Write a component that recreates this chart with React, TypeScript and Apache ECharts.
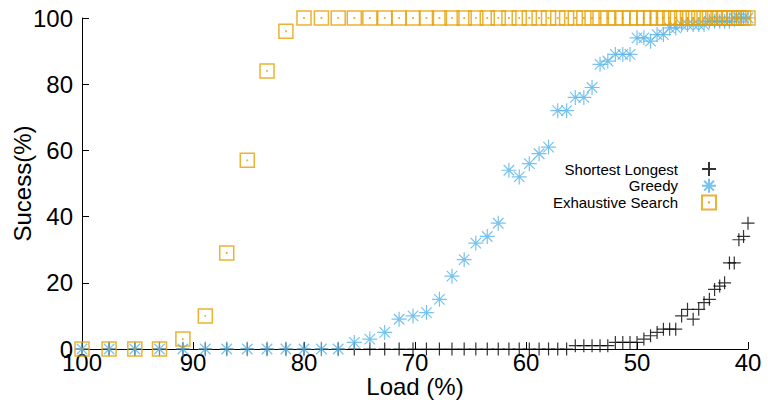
import React, { useEffect, useRef } from "react";
import * as echarts from "echarts";

const loads = [
  100, 97.56, 95.24, 93.02, 90.91, 88.89, 86.96, 85.11, 83.33, 81.63,
  80.0, 78.43, 76.92, 75.47, 74.07, 72.73, 71.43, 70.18, 68.97, 67.8,
  66.67, 65.57, 64.52, 63.49, 62.5, 61.54, 60.61, 59.7, 58.82, 57.97,
  57.14, 56.34, 55.56, 54.79, 54.05, 53.33, 52.63, 51.95, 51.28, 50.63,
  50.0, 49.38, 48.78, 48.19, 47.62, 47.06, 46.51, 45.98, 45.45, 44.94,
  44.44, 43.96, 43.48, 43.01, 42.55, 42.11, 41.67, 41.24, 40.82, 40.4,
  40.0,
];

const shortestLongest = [
  0, 0, 0, 0, 0, 0, 0, 0, 0, 0,
  0, 0, 0, 0, 0, 0, 0, 0, 0, 0,
  0, 0, 0, 0, 0, 0, 0, 0, 0, 0,
  0, 0, 1, 1, 1, 1, 1, 2, 2, 2,
  2, 3, 4, 5, 6, 6, 6, 10, 12, 9,
  12, 14, 15, 18, 19, 20, 26, 26, 33, 34,
  38,
];

const greedy = [
  0, 0, 0, 0, 0, 0, 0, 0, 0, 0,
  0, 0, 0, 2, 3, 5, 9, 10, 11, 15,
  22, 27, 32, 34, 38, 54, 52, 56, 59, 61,
  72, 72, 76, 76, 79, 86, 87, 89, 89, 89,
  94, 94, 93, 95, 95, 97, 97, 98, 98, 98,
  98, 98, 99, 99, 99, 99, 99, 100, 100, 100,
  100,
];

const exhaustive = [
  0, 0, 0, 0, 3, 10, 29, 57, 84, 96,
  100, 100, 100, 100, 100, 100, 100, 100, 100, 100,
  100, 100, 100, 100, 100, 100, 100, 100, 100, 100,
  100, 100, 100, 100, 100, 100, 100, 100, 100, 100,
  100, 100, 100, 100, 100, 100, 100, 100, 100, 100,
  100, 100, 100, 100, 100, 100, 100, 100, 100, 100,
  100,
];

const seriesNames = ["Shortest Longest", "Greedy", "Exhaustive Search"];
const xTitle = "Load (%)";
const yTitle = "Sucess(%)";

const FONT = "'Liberation Sans', Arial, Helvetica, sans-serif";

const PLUS = "path://M0,5L10,5M5,0L5,10";
const ASTERISK = "path://M0,5L10,5M5,0L5,10M1.5,1.5L8.5,8.5M8.5,1.5L1.5,8.5";
const SQUARE_DOT = "path://M0,0L10,0L10,10L0,10ZM4.9,4.9L5.1,4.9L5.1,5.1L4.9,5.1Z";

function pairs(ys: number[]) {
  return loads.map((x, i) => [x, ys[i]]);
}

export default function App() {
  const ref = useRef<HTMLDivElement>(null);
  useEffect(() => {
    if (!ref.current) return;
    const chart = echarts.init(ref.current, undefined, { renderer: "svg" });
    const axisCommon = {
      axisLine: { show: true, onZero: false, lineStyle: { color: "#000", width: 1 } },
      axisTick: { show: true, inside: true, length: 7, lineStyle: { color: "#000", width: 1 } },
      splitLine: { show: false },
      nameLocation: "middle" as const,
      nameMoveOverlap: false,
      nameTextStyle: { fontSize: 24, color: "#000", fontFamily: FONT },
    };
    chart.setOption({
      animation: false,
      backgroundColor: "#fff",
      textStyle: { fontFamily: FONT },
      grid: {
        left: 82,
        right: 20,
        top: 18,
        bottom: 51,
        containLabel: false,
        outerBoundsMode: "none",
      },
      xAxis: {
        type: "value",
        min: 40,
        max: 100,
        interval: 10,
        inverse: true,
        name: xTitle,
        nameGap: 25,
        ...axisCommon,
        axisLabel: {
          fontSize: 24,
          color: "#000",
          margin: 1,
          fontFamily: FONT,
          showMinLabel: true,
          showMaxLabel: true,
        },
      },
      yAxis: {
        type: "value",
        min: 0,
        max: 100,
        interval: 20,
        name: yTitle,
        nameGap: 48,
        ...axisCommon,
        axisLabel: {
          fontSize: 24,
          color: "#000",
          margin: 9,
          fontFamily: FONT,
          showMinLabel: true,
          showMaxLabel: true,
        },
      },
      legend: {
        orient: "vertical",
        align: "right",
        right: 51,
        top: 161,
        itemWidth: 14,
        itemHeight: 14,
        itemGap: 0.7,
        padding: 0,
        textStyle: { fontSize: 15, color: "#000", fontFamily: FONT, padding: [0, 19, 0, 0] },
        data: seriesNames,
      },
      series: [
        {
          name: seriesNames[0],
          type: "scatter",
          symbol: PLUS,
          symbolSize: 13,
          data: pairs(shortestLongest),
          itemStyle: { color: "rgba(0,0,0,0)", borderColor: "#000", borderWidth: 1.2 },
          emphasis: { disabled: true },
        },
        {
          name: seriesNames[1],
          type: "scatter",
          symbol: ASTERISK,
          symbolSize: 15,
          data: pairs(greedy),
          itemStyle: { color: "rgba(0,0,0,0)", borderColor: "#56B4E9", borderWidth: 1.2 },
          emphasis: { disabled: true },
        },
        {
          name: seriesNames[2],
          type: "scatter",
          symbol: SQUARE_DOT,
          symbolSize: 14,
          data: pairs(exhaustive),
          itemStyle: { color: "rgba(0,0,0,0)", borderColor: "#E69F00", borderWidth: 1.5 },
          emphasis: { disabled: true },
        },
      ],
    });
    return () => chart.dispose();
  }, []);
  return (
    <div
      ref={ref}
      style={{ position: "absolute", left: 0, top: 0, width: 768, height: 400 }}
    />
  );
}
